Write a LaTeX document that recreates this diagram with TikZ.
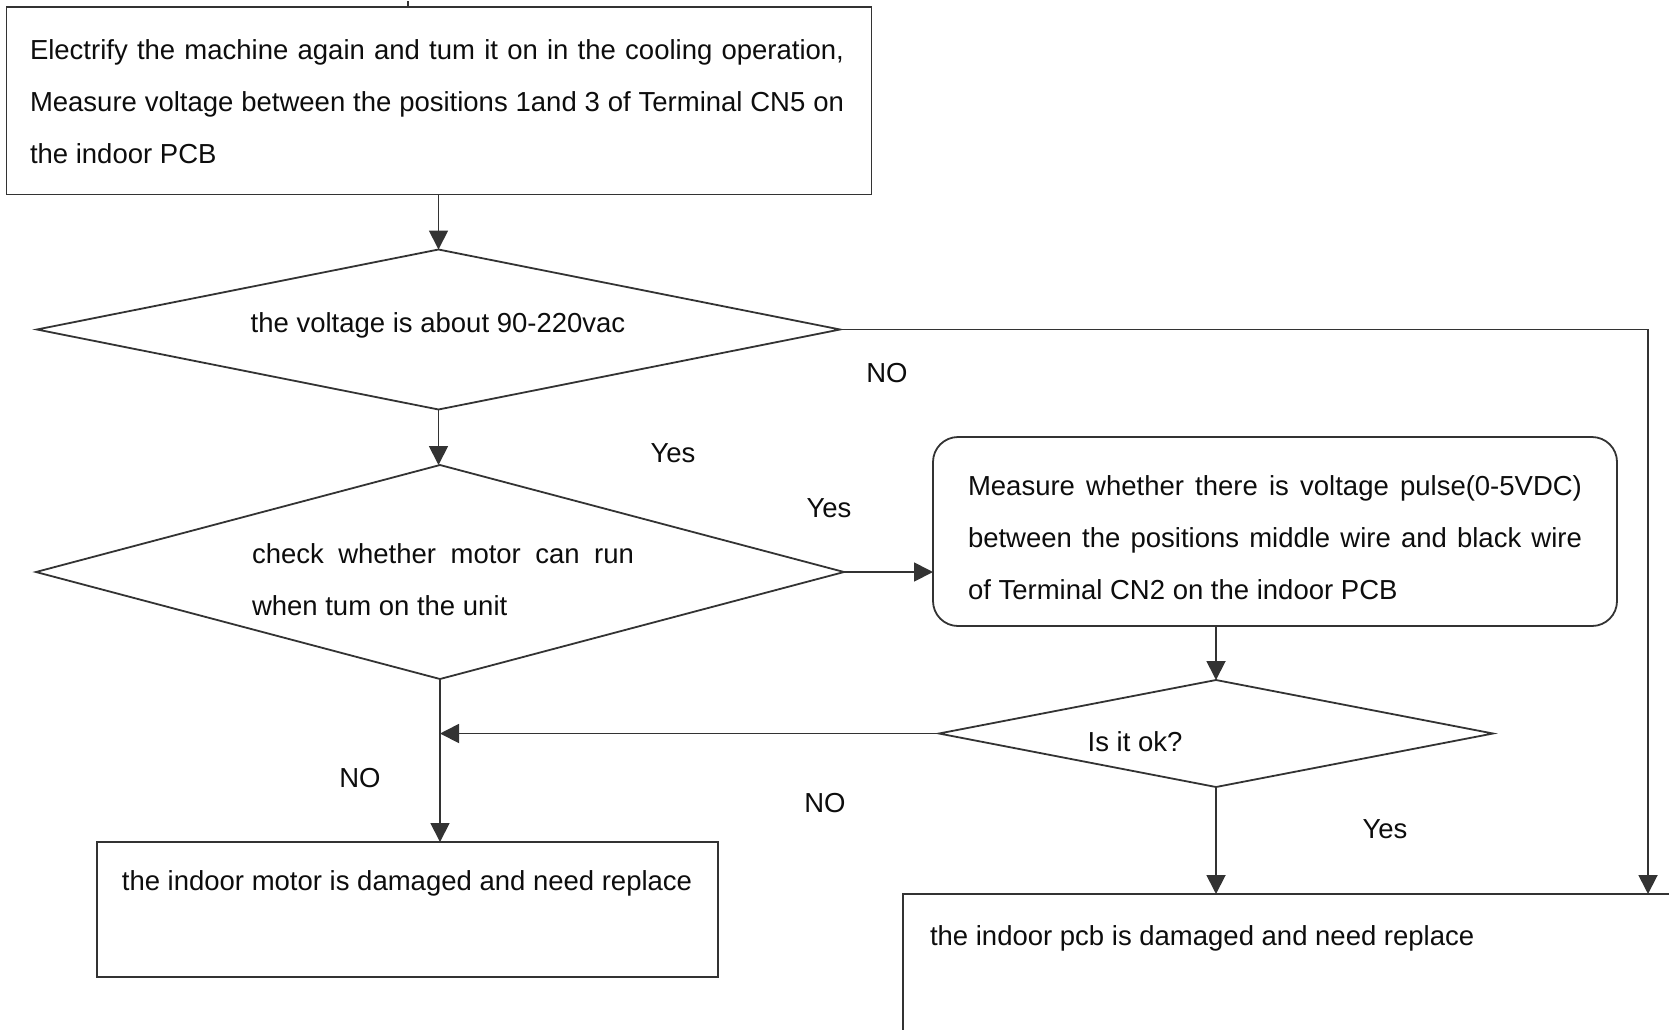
\documentclass[tikz,border=0pt]{standalone}
\usepackage{fontspec}
\setmainfont{Liberation Sans}
\usetikzlibrary{shapes.geometric,arrows.meta}
\newcommand\dgfont{\fontsize{27.5}{34}\selectfont}
\tikzset{
  shp/.style={draw=black!80, line width=1.8pt, inner sep=0pt, outer sep=0pt},
  boxs/.style={shp, rectangle},
  dia/.style={shp, diamond},
  conn/.style={draw=black!80, line width=1.8pt, -{Triangle[length=19pt,width=19pt]}},
  plain/.style={draw=black!80, line width=1.8pt},
  txt/.style={font=\dgfont, text=black!95, inner sep=0pt, outer sep=0pt},
}
\begin{document}
\begin{tikzpicture}[x=1pt,y=-1pt]
\useasboundingbox (0,0) rectangle (1669,1029);

% shapes
\node[boxs, minimum width=865pt, minimum height=187.5pt] (top) at (439,100.75) {};
\node[dia, minimum width=803pt, minimum height=160pt] (d1) at (438.5,329.5) {};
\node[dia, minimum width=808pt, minimum height=214pt] (d2) at (440,572) {};
\node[boxs, rounded corners=25pt, minimum width=684pt, minimum height=189pt] (rb) at (1275,531.5) {};
\node[dia, minimum width=554pt, minimum height=107pt] (d3) at (1216,733.5) {};
\node[boxs, minimum width=621pt, minimum height=135pt] (motor) at (407.5,909.5) {};
\node[boxs, minimum width=800pt, minimum height=180pt, anchor=north west] (pcb) at (903,894) {};

% connectors
\coordinate (tin) at (408,1);
\draw[plain] (tin) -- (top.north -| tin);
\draw[conn] (d1.north |- top.south) -- (d1.north);
\draw[conn] (d1.south) -- (d1.south |- d2.north);
\coordinate (ne) at (1648,329.5);
\draw[conn] (d1.east) -- (ne) -- (ne |- pcb.north);
\draw[conn] (d2.east) -- (d2.east -| rb.west);
\draw[conn] (d3.north |- rb.south) -- (d3.north);
\coordinate (j) at (d2.south |- d3.west);
\draw[conn] (d3.west) -- (j);
\draw[conn] (d2.south) -- (d2.south |- motor.north);
\draw[conn] (d3.south) -- (d3.south |- pcb.north);

% texts
\node[txt, anchor=base west] (ta) at (30,59) {\makebox[814pt][s]{Electrify the machine again and tum it on in the cooling operation,}};
\node[txt, anchor=base west] (tb) at (30,111) {\makebox[814pt][s]{Measure voltage between the positions 1and 3 of Terminal CN5 on}};
\node[txt, anchor=base west] (tc) at (30,163) {the indoor PCB};

\node[txt, anchor=base] (v1) at (438,332) {the voltage is about 90-220vac};

\node[txt, anchor=base west] (m1) at (252,563) {\makebox[382pt][s]{check whether motor can run}};
\node[txt, anchor=base west] (m2) at (252,615) {when tum on the unit};

\node[txt, anchor=base west] (r1) at (968,495) {\makebox[614pt][s]{Measure whether there is voltage pulse(0-5VDC)}};
\node[txt, anchor=base west] (r2) at (968,547) {\makebox[614pt][s]{between the positions middle wire and black wire}};
\node[txt, anchor=base west] (r3) at (968,599) {of Terminal CN2 on the indoor PCB};

\node[txt, anchor=base] (ok) at (1135,751) {Is it ok?};
\node[txt, anchor=base] (mt) at (407,890) {the indoor motor is damaged and need replace};
\node[txt, anchor=base west] (pt) at (930,945) {the indoor pcb is damaged and need replace};

% labels
\node[txt, anchor=base] (y1) at (673,462) {Yes};
\node[txt, anchor=base] (y2) at (829,517) {Yes};
\node[txt, anchor=base] (n1) at (887,382) {NO};
\node[txt, anchor=base] (n2) at (360,787) {NO};
\node[txt, anchor=base] (n3) at (825,812) {NO};
\node[txt, anchor=base] (y3) at (1385,838) {Yes};
\end{tikzpicture}
\end{document}
